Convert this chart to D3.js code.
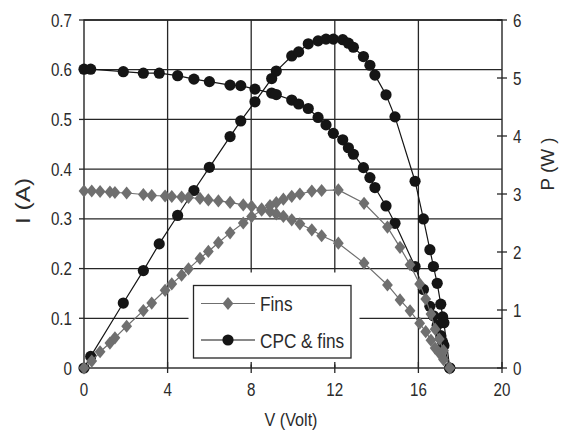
<!DOCTYPE html>
<html>
<head>
<meta charset="utf-8">
<script src="https://cdn.jsdelivr.net/npm/d3@7/dist/d3.min.js"></script>
<style>
html,body{margin:0;padding:0;background:#fff;}
svg{display:block;}
</style>
</head>
<body>
<svg id="chart" width="563" height="431"></svg>
<script>
// ---- Data ----
const xTicks = [0, 4, 8, 12, 16, 20];
const iTicks = [0, 0.1, 0.2, 0.3, 0.4, 0.5, 0.6, 0.7];
const pTicks = [0, 1, 2, 3, 4, 5, 6];
const seriesNames = ["Fins", "CPC & fins"];

const finsV = [0, 0.37, 0.77, 1.24, 1.48, 2.04, 2.84, 3.24, 3.88, 4.2, 4.67, 5.0, 5.55, 5.95, 6.43, 6.99, 7.62, 8.02, 8.5, 8.9, 9.2, 9.54, 9.94, 10.33, 10.9, 11.37, 12.17, 13.4, 14.52, 15.12, 15.6, 16.06, 16.35, 16.6, 16.8, 17.0, 17.2, 17.5];
const finsI = [0.356, 0.356, 0.355, 0.354, 0.353, 0.352, 0.349, 0.347, 0.346, 0.345, 0.344, 0.343, 0.341, 0.338, 0.336, 0.333, 0.328, 0.325, 0.32, 0.315, 0.31, 0.305, 0.298, 0.29, 0.278, 0.266, 0.251, 0.211, 0.167, 0.137, 0.115, 0.09, 0.073, 0.056, 0.04, 0.03, 0.017, 0];
const finsP = [0, 0.12, 0.28, 0.43, 0.52, 0.72, 0.99, 1.12, 1.34, 1.45, 1.6, 1.71, 1.89, 2.01, 2.16, 2.33, 2.5, 2.61, 2.72, 2.8, 2.85, 2.91, 2.96, 3.0, 3.05, 3.06, 3.07, 2.84, 2.43, 2.08, 1.78, 1.45, 1.19, 0.93, 0.67, 0.5, 0.3, 0];

const cpcV = [0, 0.32, 1.88, 2.84, 3.6, 4.48, 5.26, 6.0, 6.99, 7.5, 8.18, 8.98, 9.2, 9.94, 10.27, 10.73, 11.2, 11.58, 11.93, 12.38, 12.65, 12.89, 13.37, 13.68, 13.92, 14.45, 14.88, 15.84, 16.24, 16.55, 16.72, 16.9, 17.07, 17.16, 17.22, 17.5];
const cpcI = [0.601, 0.601, 0.596, 0.593, 0.593, 0.588, 0.581, 0.576, 0.569, 0.568, 0.561, 0.553, 0.55, 0.539, 0.531, 0.522, 0.504, 0.489, 0.472, 0.459, 0.443, 0.43, 0.403, 0.383, 0.363, 0.326, 0.291, 0.204, 0.158, 0.124, 0.105, 0.086, 0.065, 0.052, 0.045, 0];
const cpcP = [0, 0.2, 1.12, 1.68, 2.14, 2.63, 3.06, 3.46, 3.99, 4.26, 4.59, 4.99, 5.12, 5.38, 5.45, 5.59, 5.64, 5.67, 5.67, 5.66, 5.6, 5.53, 5.37, 5.22, 5.05, 4.71, 4.33, 3.22, 2.57, 2.04, 1.75, 1.46, 1.1, 0.88, 0.78, 0];

// ---- Layout ----
const L = 84, R = 502, T = 20, B = 368;
const svg = d3.select("#chart");
const x = d3.scaleLinear().domain([0, 20]).range([L, R]);
const yI = d3.scaleLinear().domain([0, 0.7]).range([B, T]);
const yP = d3.scaleLinear().domain([0, 6]).range([B, T]);

const GRID = "#262626", TXT = "#2b2b2b";
const GRAY = "#6f6f6f", BLACK = "#151515";

// font detection: is a narrow face really installed?
const cv = document.createElement("canvas").getContext("2d");
function installed(name) {
  const s = "CPC & fins 0.123 mmmWWW";
  cv.font = "20px monospace"; const a = cv.measureText(s).width;
  cv.font = `20px '${name}', monospace`; const b = cv.measureText(s).width;
  return Math.abs(a - b) > 0.5;
}
const hasNarrow = installed("Liberation Sans Narrow");
const FONT = hasNarrow ? "'Liberation Sans Narrow',sans-serif" : "'Liberation Sans',Arial,sans-serif";
const SX = hasNarrow ? 1 : 0.82;

function addText(parent, px, py, str, size, anchor, rot, len) {
  const g = parent.append("g").attr("transform", `translate(${px},${py}) rotate(${rot || 0}) scale(${SX},1)`);
  const t = g.append("text").attr("x", 0).attr("y", 0)
    .attr("font-family", FONT).attr("font-size", size)
    .attr("fill", TXT).attr("text-anchor", anchor || "start").text(str);
  if (len) t.attr("textLength", len / SX).attr("lengthAdjust", "spacingAndGlyphs");
  return g;
}

// ---- Gridlines ----
const grid = svg.append("g");
grid.selectAll("line.h").data(iTicks.filter(d => d > 0)).enter().append("line")
  .attr("x1", L).attr("x2", R).attr("y1", d => yI(d)).attr("y2", d => yI(d))
  .attr("stroke", GRID).attr("stroke-width", 1.3);
grid.selectAll("line.v").data(xTicks.filter(d => d > 0 && d < 20)).enter().append("line")
  .attr("y1", T).attr("y2", B).attr("x1", d => x(d)).attr("x2", d => x(d))
  .attr("stroke", GRID).attr("stroke-width", 1.3);

// legend background (covers gridlines)
svg.append("rect").attr("x", 188.5).attr("y", 272.5).attr("width", 171).attr("height", 92).attr("fill", "#fff");

// ---- Axes ----
const ax = svg.append("g");
ax.append("rect").attr("x", L).attr("y", T).attr("width", R - L).attr("height", B - T)
  .attr("fill", "none").attr("stroke", GRID).attr("stroke-width", 1.4);
ax.selectAll("line.lt").data(iTicks).enter().append("line")
  .attr("x1", L - 5).attr("x2", L).attr("y1", d => yI(d)).attr("y2", d => yI(d))
  .attr("stroke", GRID).attr("stroke-width", 1.3);
ax.selectAll("line.bt").data(xTicks).enter().append("line")
  .attr("x1", d => x(d)).attr("x2", d => x(d)).attr("y1", B - 6).attr("y2", B + 5)
  .attr("stroke", GRID).attr("stroke-width", 1.3);
ax.selectAll("line.rt").data(pTicks).enter().append("line")
  .attr("x1", R - 5).attr("x2", R + 5).attr("y1", d => yP(d)).attr("y2", d => yP(d))
  .attr("stroke", GRID).attr("stroke-width", 1.3);

// tick labels
iTicks.forEach(d => addText(svg, L - 12, yI(d) + 6.5, d === 0 ? "0" : d.toFixed(1), 18.5, "end"));
xTicks.forEach(d => addText(svg, x(d), 396, String(d), 18.5, "middle"));
pTicks.forEach(d => addText(svg, R + 11, yP(d) + 6.5, String(d), 18.5, "start"));

// axis titles
addText(svg, 30, 201, "I (A)", 21, "middle", -90, 46);
addText(svg, 553.5, 164, "P (W )", 18, "middle", -90, 53);
addText(svg, 291, 426, "V (Volt)", 18.5, "middle", 0, 53);

// ---- Series ----
const diamond = "M0,-6.6L5.4,0L0,6.6L-5.4,0Z";
function drawSeries(V, Y, yScale, color, marker) {
  const pts = V.map((v, i) => [x(v), yScale(Y[i])]);
  svg.append("path").attr("d", d3.line()(pts)).attr("fill", "none")
    .attr("stroke", color).attr("stroke-width", 1.2);
  const g = svg.append("g");
  if (marker === "circle") {
    g.selectAll("circle").data(pts).enter().append("circle")
      .attr("cx", d => d[0]).attr("cy", d => d[1]).attr("r", 5.6).attr("fill", color);
  } else {
    g.selectAll("path").data(pts).enter().append("path")
      .attr("d", diamond).attr("transform", d => `translate(${d[0]},${d[1]})`).attr("fill", color);
  }
}
drawSeries(cpcV, cpcI, yI, BLACK, "circle");
drawSeries(cpcV, cpcP, yP, BLACK, "circle");
drawSeries(finsV, finsI, yI, GRAY, "diamond");
drawSeries(finsV, finsP, yP, GRAY, "diamond");

// ---- Legend ----
const lg = svg.append("g");
lg.append("rect").attr("x", 193.5).attr("y", 285.5).attr("width", 157.5).attr("height", 72.5)
  .attr("fill", "#fff").attr("stroke", GRID).attr("stroke-width", 1.3);
const rows = [{y: 303.5, color: GRAY, m: "diamond"}, {y: 340, color: BLACK, m: "circle"}];
rows.forEach((r, i) => {
  lg.append("line").attr("x1", 201).attr("x2", 255).attr("y1", r.y).attr("y2", r.y)
    .attr("stroke", r.color).attr("stroke-width", 1.2);
  if (r.m === "circle") {
    lg.append("circle").attr("cx", 228).attr("cy", r.y).attr("r", 5.6).attr("fill", r.color);
  } else {
    lg.append("path").attr("d", diamond).attr("transform", `translate(228,${r.y})`).attr("fill", r.color);
  }
  addText(lg, 260, r.y + 7.5, seriesNames[i], 21, "start");
});
</script>
</body>
</html>
